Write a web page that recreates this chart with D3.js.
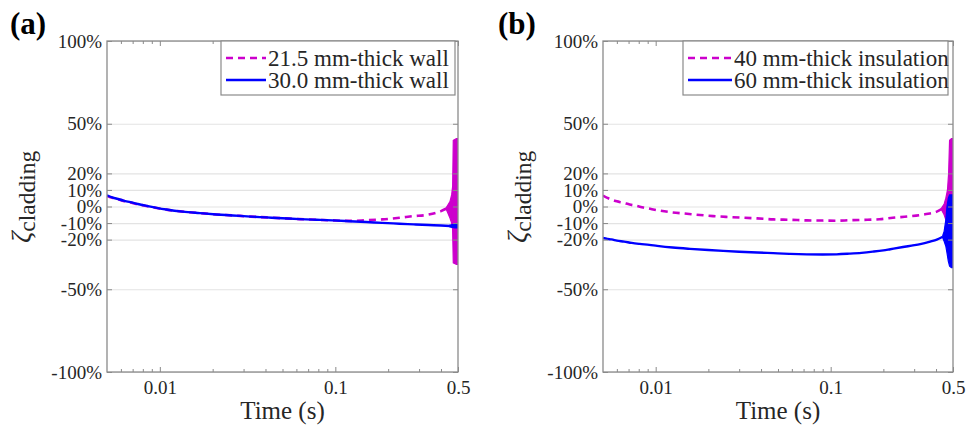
<!DOCTYPE html>
<html><head><meta charset="utf-8">
<script src="https://cdn.jsdelivr.net/npm/d3@7"></script>
<style>
body{margin:0;background:#fff;}
svg{display:block;}
</style>
</head><body>
<svg id="chart" width="966" height="430" style="font-family:'Liberation Serif','Times New Roman',Tinos,'DejaVu Serif',serif"></svg>
<script>
// ---------- data ----------
const xTickValues = [0.01, 0.1, 0.5];
const xTickLabels = ["0.01", "0.1", "0.5"];
const xMinorTicks = [0.006,0.007,0.008,0.009,0.02,0.03,0.04,0.05,0.06,0.07,0.08,0.09,0.2,0.3,0.4];
const yTickValues = [-100,-50,-20,-10,0,10,20,50,100];
const yTickLabels = ["-100%","-50%","-20%","-10%","0%","10%","20%","50%","100%"];
const xDomain = [0.005, 0.5];
const yDomain = [-100, 100];

const panelTags = ["(a)", "(b)"];
const xAxisTitle = "Time (s)";
const yAxisSymbol = "ζ";
const yAxisSub = "cladding";

// panel (a)
const aLegend = ["21.5 mm-thick wall", "30.0 mm-thick wall"];
const aThinTime  = [0.005,0.0053,0.0057,0.0062,0.0068,0.0075,0.0085,0.0096,0.0109,0.0135,0.0169,0.021,0.026,0.033,0.0404,0.05,0.0625,0.078,0.0964,0.12,0.15,0.185,0.232,0.274,0.34,0.40,0.43];
const aThinValue = [6.4,5.4,4.5,3.4,2.4,1.3,0.2,-0.9,-1.9,-3.1,-4,-4.8,-5.4,-6.1,-6.6,-7.1,-7.6,-8.0,-8.4,-8.7,-8.3,-7.8,-6.8,-5.9,-4.9,-2.8,-1.2];
const aThinTailTime  = [0.43,0.45,0.46,0.466,0.47,0.49,0.5];
const aThinTailUpper = [-0.5,3,7,12,40,41,41];
const aThinTailLower = [-2,-7,-10,-14,-34,-35,-35];
const aThickTime  = [0.005,0.0053,0.0057,0.0062,0.0068,0.0075,0.0085,0.0096,0.0109,0.0135,0.0169,0.021,0.026,0.033,0.0404,0.05,0.0625,0.078,0.0964,0.12,0.15,0.185,0.232,0.28,0.34,0.40,0.45];
const aThickValue = [6.8,5.6,4.7,3.6,2.6,1.5,0.3,-0.8,-1.8,-3.1,-4,-4.8,-5.4,-6.1,-6.6,-7.1,-7.6,-8.0,-8.4,-8.9,-9.4,-9.9,-10.4,-10.8,-11.2,-11.5,-11.8];
const aThickTailTime  = [0.45,0.48,0.5];
const aThickTailUpper = [-11.2,-10.6,-10.6];
const aThickTailLower = [-12.4,-13,-13];

// panel (b)
const bLegend = ["40 mm-thick insulation", "60 mm-thick insulation"];
const bThinTime  = [0.005,0.0053,0.0056,0.006,0.0065,0.0071,0.0078,0.0085,0.0093,0.0102,0.0121,0.0151,0.0213,0.0265,0.038,0.047,0.058,0.073,0.09,0.108,0.128,0.162,0.19,0.226,0.284,0.346,0.404,0.43];
const bThinValue = [6.6,5.2,4.2,3.1,2.3,1.2,0.3,-0.6,-1.4,-2.2,-3.4,-4.4,-5.8,-6.4,-7.2,-7.8,-8.0,-8.4,-8.5,-8.6,-8.3,-8.0,-7.7,-6.8,-5.9,-4.7,-3.1,-1.5];
const bThinTailTime  = [0.43,0.445,0.455,0.465,0.472,0.478,0.49,0.5];
const bThinTailUpper = [-1,1.5,5,10,20,40,41,41];
const bThinTailLower = [-2,-5,-8,-10,-11,-12,-12,-12];
const bThickTime  = [0.005,0.0053,0.0056,0.006,0.0066,0.0073,0.0081,0.0092,0.0102,0.0125,0.0157,0.02,0.0243,0.03,0.038,0.047,0.058,0.073,0.09,0.108,0.128,0.15,0.174,0.2,0.219,0.259,0.29,0.325,0.37,0.404,0.437];
const bThickValue = [-19,-19.6,-19.9,-20.6,-21.2,-22,-22.6,-23.2,-23.8,-24.8,-25.6,-26.3,-26.8,-27.3,-27.8,-28.2,-28.6,-28.9,-29.0,-28.9,-28.5,-28,-27.3,-26.5,-25.8,-24.5,-23.6,-22.7,-21.2,-20,-18.3];
const bThickTailTime  = [0.437,0.445,0.455,0.462,0.47,0.478,0.49,0.5];
const bThickTailUpper = [-17.5,-15,-8,0,5,7,7,7];
const bThickTailLower = [-19,-21,-24,-28,-33,-36,-37,-37];

// ---------- drawing ----------
const FONT = "'Liberation Serif','Times New Roman',Tinos,'DejaVu Serif',serif";
const MAG = "#cc00cc", BLU = "#0000ff";
const svg = d3.select("#chart");
const zip2 = (t, v) => t.map((d, i) => [d, v[i]]);
const zip3 = (t, u, l) => t.map((d, i) => ({t: d, hi: u[i], lo: l[i]}));

const panels = [
  {L:107, R:458, T:41, B:372, tagX:10, labX:30, tag:panelTags[0], legend:aLegend,
   legX:221, legW:234, sampleW:40,
   thin: zip2(aThinTime, aThinValue), thinTail: zip3(aThinTailTime, aThinTailUpper, aThinTailLower),
   thick: zip2(aThickTime, aThickValue), thickTail: zip3(aThickTailTime, aThickTailUpper, aThickTailLower)},
  {L:603, R:953, T:41, B:372, tagX:498, labX:526, tag:panelTags[1], legend:bLegend,
   legX:683, legW:265, sampleW:44,
   thin: zip2(bThinTime, bThinValue), thinTail: zip3(bThinTailTime, bThinTailUpper, bThinTailLower),
   thick: zip2(bThickTime, bThickValue), thickTail: zip3(bThickTailTime, bThickTailUpper, bThickTailLower)}
];

const axisGray = "#8a8a8a", txt = "#262626";

panels.forEach(p => {
  const g = svg.append("g");
  const x = d3.scaleLog().domain(xDomain).range([p.L, p.R]);
  const y = d3.scaleLinear().domain(yDomain).range([p.B, p.T]);
  const W = p.R - p.L;

  // grid
  g.append("g").attr("transform", `translate(${p.L},0)`)
    .call(d3.axisLeft(y).tickValues(yTickValues).tickSize(-W).tickFormat(""))
    .call(s => { s.select(".domain").remove(); s.selectAll("line").attr("stroke", "#e3e3e3").attr("stroke-width", 1.2); });

  // series
  const line = d3.line().x(d => x(d[0])).y(d => y(d[1])).curve(d3.curveMonotoneX);
  const area = d3.area().x(d => x(d.t)).y0(d => y(d.lo)).y1(d => y(d.hi)).curve(d3.curveLinear);
  const clip = "clip" + p.L;
  g.append("clipPath").attr("id", clip).append("rect").attr("x", p.L).attr("y", p.T).attr("width", W).attr("height", p.B - p.T);
  const data = g.append("g").attr("clip-path", `url(#${clip})`);
  data.append("path").datum(p.thin).attr("d", line).attr("fill", "none").attr("stroke", MAG)
    .attr("stroke-width", 2.6).attr("stroke-dasharray", "7,5");
  data.append("path").datum(p.thinTail).attr("d", area).attr("fill", MAG).attr("stroke", MAG).attr("stroke-width", 1.2);
  data.append("path").datum(p.thick).attr("d", line).attr("fill", "none").attr("stroke", BLU).attr("stroke-width", 2.4);
  data.append("path").datum(p.thickTail).attr("d", area).attr("fill", BLU).attr("stroke", BLU).attr("stroke-width", 1.2);

  // box
  g.append("rect").attr("x", p.L).attr("y", p.T).attr("width", W).attr("height", p.B - p.T)
    .attr("fill", "none").attr("stroke", axisGray).attr("stroke-width", 1.3);

  const styleAxis = s => {
    s.attr("font-family", null).attr("font-size", null);
    s.select(".domain").remove();
    s.selectAll("line").attr("stroke", axisGray);
    s.selectAll("text").attr("fill", txt).style("font-size", "19px").style("font-family", FONT);
  };
  // y axes
  g.append("g").attr("transform", `translate(${p.L},0)`)
    .call(d3.axisLeft(y).tickValues(yTickValues).tickSize(-5).tickPadding(5).tickFormat((d, i) => yTickLabels[i]))
    .call(styleAxis);
  g.append("g").attr("transform", `translate(${p.R},0)`)
    .call(d3.axisRight(y).tickValues(yTickValues).tickSize(-5).tickFormat(""))
    .call(styleAxis);
  // x axes
  g.append("g").attr("transform", `translate(0,${p.B})`)
    .call(d3.axisBottom(x).tickValues(xTickValues).tickSize(-5).tickPadding(9).tickFormat((d, i) => xTickLabels[i]))
    .call(styleAxis);
  g.append("g").attr("transform", `translate(0,${p.B})`)
    .call(d3.axisBottom(x).tickValues(xMinorTicks).tickSize(-3).tickFormat(""))
    .call(styleAxis);
  g.append("g").attr("transform", `translate(0,${p.T})`)
    .call(d3.axisTop(x).tickValues(xTickValues).tickSize(-5).tickFormat(""))
    .call(styleAxis);
  g.append("g").attr("transform", `translate(0,${p.T})`)
    .call(d3.axisTop(x).tickValues(xMinorTicks).tickSize(-3).tickFormat(""))
    .call(styleAxis);

  // titles
  g.append("text").attr("x", (p.L + p.R) / 2).attr("y", 419).attr("text-anchor", "middle")
    .style("font-size", "25px").style("font-family", FONT).attr("fill", txt).text(xAxisTitle);
  g.append("text").attr("x", p.tagX).attr("y", 34).style("font-size", "31px").style("font-weight", "bold")
    .style("font-family", FONT).attr("fill", "#000").text(p.tag);
  const yl = g.append("text").attr("transform", `translate(${p.labX},243) rotate(-90)`)
    .attr("text-anchor", "start").attr("fill", txt).style("font-family", FONT);
  yl.append("tspan").style("font-size", "28px").style("font-style", "italic").text(yAxisSymbol);
  yl.append("tspan").style("font-size", "23.5px").attr("dy", 5).text(yAxisSub);

  // legend
  const lg = g.append("g");
  lg.append("rect").attr("x", p.legX).attr("y", p.T).attr("width", p.legW).attr("height", 54)
    .attr("fill", "#fff").attr("stroke", axisGray).attr("stroke-width", 1.2);
  const rows = [{c: MAG, dash: "7,5", t: p.legend[0], y: 58}, {c: BLU, dash: null, t: p.legend[1], y: 80}];
  rows.forEach(r => {
    lg.append("line").attr("x1", p.legX + 5).attr("x2", p.legX + 5 + p.sampleW).attr("y1", r.y).attr("y2", r.y)
      .attr("stroke", r.c).attr("stroke-width", 2.4).attr("stroke-dasharray", r.dash);
    lg.append("text").attr("x", p.legX + 7 + p.sampleW).attr("y", r.y + 7.5).style("font-size", "23px")
      .style("font-family", FONT).attr("fill", txt).text(r.t);
  });
});
</script>
</body></html>
